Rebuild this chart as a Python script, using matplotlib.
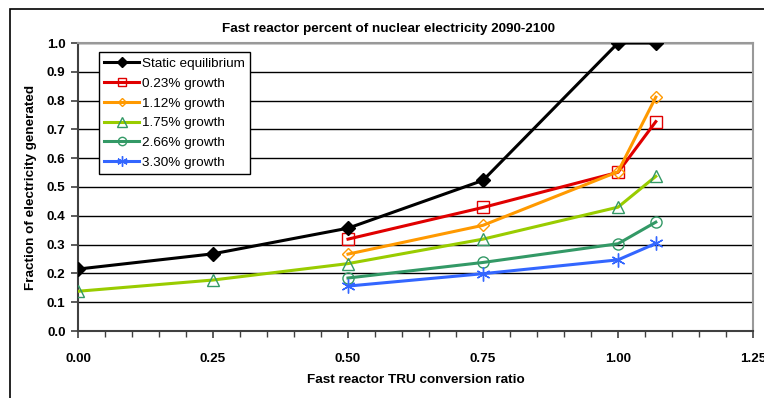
import matplotlib
matplotlib.use("Agg")
import matplotlib.pyplot as plt
from matplotlib.patches import Rectangle
from matplotlib.ticker import MultipleLocator

plt.rcParams['font.family'] = ['Liberation Sans', 'DejaVu Sans']

x_full = [0.0, 0.25, 0.5, 0.75, 1.0, 1.07]
x_part = [0.5, 0.75, 1.0, 1.07]

static_eq = [0.215, 0.268, 0.357, 0.523, 1.0, 1.0]
g023 = [0.319, 0.429, 0.551, 0.727]
g112 = [0.267, 0.367, 0.553, 0.812]
g175 = [0.138, 0.177, 0.234, 0.319, 0.430, 0.537]
g266 = [0.184, 0.238, 0.303, 0.378]
g330 = [0.156, 0.199, 0.247, 0.304]

labels = ["Static equilibrium", "0.23% growth", "1.12% growth",
          "1.75% growth", "2.66% growth", "3.30% growth"]
title = "Fast reactor percent of nuclear electricity 2090-2100"
xlabel = "Fast reactor TRU conversion ratio"
ylabel = "Fraction of electricity generated"

fig = plt.figure(figsize=(7.64, 3.98), dpi=100)
ax = fig.add_axes([78/764, 1-331/398, (753-78)/764, (331-43)/398])

lw = 2.2
ax.plot(x_full, static_eq, color='black', lw=lw, marker='D', ms=7,
        mfc='black', mec='black', label=labels[0], zorder=5)
ax.plot(x_part, g023, color='#E00000', lw=lw, marker='s', ms=8,
        mfc='none', mec='#E00000', mew=1.0, label=labels[1], zorder=4)
ax.plot(x_part, g112, color='#FF9900', lw=lw, marker='D', ms=6,
        mfc='none', mec='#FF9900', mew=1.0, label=labels[2], zorder=4)
ax.plot(x_full, g175, color='#99CC00', lw=lw, marker='^', ms=9,
        mfc='none', mec='#339966', mew=1.0, label=labels[3], zorder=4)
ax.plot(x_part, g266, color='#339966', lw=lw, marker='o', ms=8,
        mfc='none', mec='#339966', mew=1.0, label=labels[4], zorder=4)
ax.plot(x_part, g330, color='#3366FF', lw=lw, marker=(6, 2, 0), ms=10,
        mfc='none', mec='#3366FF', mew=1.0, label=labels[5], zorder=4)

ax.set_xlim(0, 1.25)
ax.set_ylim(0, 1.0)
ax.xaxis.set_major_locator(MultipleLocator(0.25))
ax.xaxis.set_minor_locator(MultipleLocator(0.05))
ax.yaxis.set_major_locator(MultipleLocator(0.1))
ax.xaxis.set_major_formatter(matplotlib.ticker.FormatStrFormatter('%.2f'))
ax.yaxis.set_major_formatter(matplotlib.ticker.FormatStrFormatter('%.1f'))

ax.grid(axis='y', color='black', lw=1.0)
ax.set_axisbelow(True)
for s in ['top', 'right']:
    ax.spines[s].set_color('#999999')
    ax.spines[s].set_linewidth(1.5)
for s in ['left', 'bottom']:
    ax.spines[s].set_color('#404040')
    ax.spines[s].set_linewidth(1.5)

ax.tick_params(axis='x', which='major', length=5, width=1.2, color='#404040',
               labelsize=9.7, pad=11)
ax.tick_params(axis='x', which='minor', length=4, width=1.0, color='#404040')
ax.tick_params(axis='y', which='major', length=5, width=1.2, color='#404040',
               labelsize=9.7, pad=4)
for lab in ax.get_xticklabels() + ax.get_yticklabels():
    lab.set_fontweight('bold')

ax.set_xlabel(xlabel, fontsize=9.7, fontweight='bold', labelpad=6)
ax.set_ylabel(ylabel, fontsize=9.7, fontweight='bold', labelpad=7)
fig.text(389/764, 1-29/398, title, ha='center', va='center',
         fontsize=9.7, fontweight='bold')

leg = ax.legend(loc='upper left', bbox_to_anchor=(21/675, 1-9/288),
                fontsize=9.7, frameon=True, fancybox=False, edgecolor='black',
                framealpha=1, borderpad=0.4, labelspacing=0.55,
                handlelength=2.6, handletextpad=0.2, borderaxespad=0,
                markerscale=0.75)
leg.get_frame().set_linewidth(1.0)

fig.patches.append(Rectangle((10/764, -0.1), 1.2, 1.1 - 9/398,
                             transform=fig.transFigure, fill=False,
                             edgecolor='black', lw=1.2))

fig.savefig('out.png', dpi=100)
